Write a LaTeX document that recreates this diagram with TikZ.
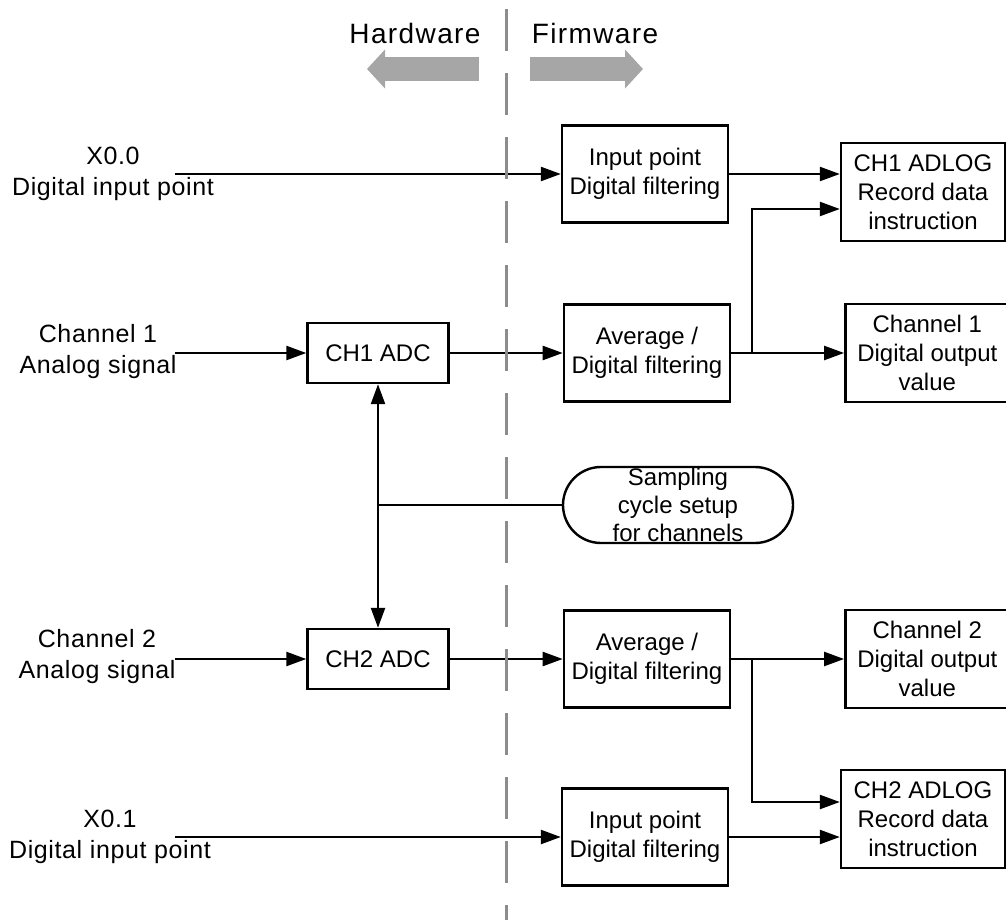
\documentclass[tikz,border=0pt]{standalone}
\usepackage{fontspec}
\setmainfont{Liberation Sans}
\newfontfamily\headfont[LetterSpace=5]{Liberation Sans}
\newfontfamily\sidefont[LetterSpace=2.5]{Liberation Sans}
\usepackage{tikz}
\usetikzlibrary{arrows.meta,positioning,calc}
\definecolor{hgrey}{HTML}{A6A6A6}
\definecolor{dgrey}{HTML}{8C8C8C}

\begin{document}
\begin{tikzpicture}[x=1pt,y=-1pt,
  node distance=113pt,
  block/.style={draw,line width=2.4pt,minimum width=166pt,minimum height=97pt,
                align=center,inner sep=2pt,font=\fontsize{24}{29}\selectfont},
  adcbox/.style={block,minimum width=141pt,minimum height=60pt},
  sink/.style={block,minimum width=164pt,minimum height=98pt},
  side/.style={align=center,font=\sidefont\fontsize{25}{31}\selectfont},
  head/.style={font=\headfont\fontsize{28}{32}\selectfont},
  arr/.style={-{Triangle[length=20pt,width=14pt]},line width=2.4pt},
  dblarr/.style={{Triangle[length=20pt,width=14pt]}-{Triangle[length=20pt,width=14pt]},line width=2.4pt},
  ln/.style={line width=2.4pt},
  bigarr/.style={draw=hgrey,line width=24pt,-{Triangle[length=18pt,width=38pt]}},
  divider/.style={draw=dgrey,line width=3pt,dash pattern=on 42pt off 22pt}]
  \useasboundingbox (0,0) rectangle (1006,920);

  % hardware / firmware split
  \node[head] (hw) at (415,33) {Hardware};
  \node[head] (fw) at (595,33) {Firmware};
  \coordinate (hwA) at (479,69); \coordinate (hwB) at (367,69);
  \coordinate (fwA) at (530,69); \coordinate (fwB) at (643,69);
  \draw[bigarr] (hwA)--(hwB);
  \draw[bigarr] (fwA)--(fwB);

  % inputs
  \node[side] (x0) at (113,174) {X0.0\\Digital input point};
  \node[side] (ch1) at (98,352) {Channel 1\\Analog signal};
  \node[side] (ch2) at (97,657) {Channel 2\\Analog signal};
  \node[side] (x1) at (110,837) {X0.1\\Digital input point};
  \coordinate (x0in) at (175,174); \coordinate (ch1in) at (175,353);
  \coordinate (ch2in) at (175,659); \coordinate (x1in) at (175,837);

  % channel 1
  \node[adcbox] (adc1) at (378,353) {CH1 ADC};
  \node[block,right=of adc1] (avg1) {Average /\\Digital filtering};
  \node[sink,right=of avg1] (out1) {Channel 1\\Digital output\\value};
  \node[block] (filt1) at (645,174) {Input point\\Digital filtering};
  \node[sink] (log1) at (923,192) {CH1 ADLOG\\Record data\\instruction};

  % channel 2
  \node[adcbox] (adc2) at (378,659) {CH2 ADC};
  \node[block,right=of adc2] (avg2) {Average /\\Digital filtering};
  \node[sink,right=of avg2] (out2) {Channel 2\\Digital output\\value};
  \node[block] (filt2) at (645,837) {Input point\\Digital filtering};
  \node[sink] (log2) at (923,819) {CH2 ADLOG\\Record data\\instruction};

  % sampling setup
  \node[draw,line width=2.4pt,rounded corners=38pt,minimum width=230pt,minimum height=76pt,
        label={[align=center,font=\fontsize{24}{28}\selectfont]center:Sampling\\cycle setup\\for channels}]
        (pill) at (678,505) {};

  \draw[arr] (x0in)--(filt1.west);
  \draw[arr] (filt1.east)--(filt1.east -| log1.west);
  \draw[arr] (ch1in)--(adc1.west);
  \draw[arr] (adc1)--(avg1);
  \draw[arr] (avg1)--(out1);
  \coordinate (j1) at ($(avg1.east)+(21,0)$);
  \draw[arr] (j1) |- ($(log1.west)+(0,17)$);

  \draw[arr] (ch2in)--(adc2.west);
  \draw[arr] (adc2)--(avg2);
  \draw[arr] (avg2)--(out2);
  \coordinate (j2) at ($(avg2.east)+(21,0)$);
  \draw[arr] (j2) |- ($(log2.west)+(0,-17)$);
  \draw[arr] (x1in)--(filt2.west);
  \draw[arr] (filt2.east)--(filt2.east -| log2.west);

  \draw[dblarr] (adc1.south)--(adc2.north);
  \draw[ln] (pill.west)--(pill.west -| adc1.south);

  \coordinate (divtop) at (506,9); \coordinate (divbot) at (506,920);
  \draw[divider] (divtop)--(divbot);
\end{tikzpicture}
\end{document}
